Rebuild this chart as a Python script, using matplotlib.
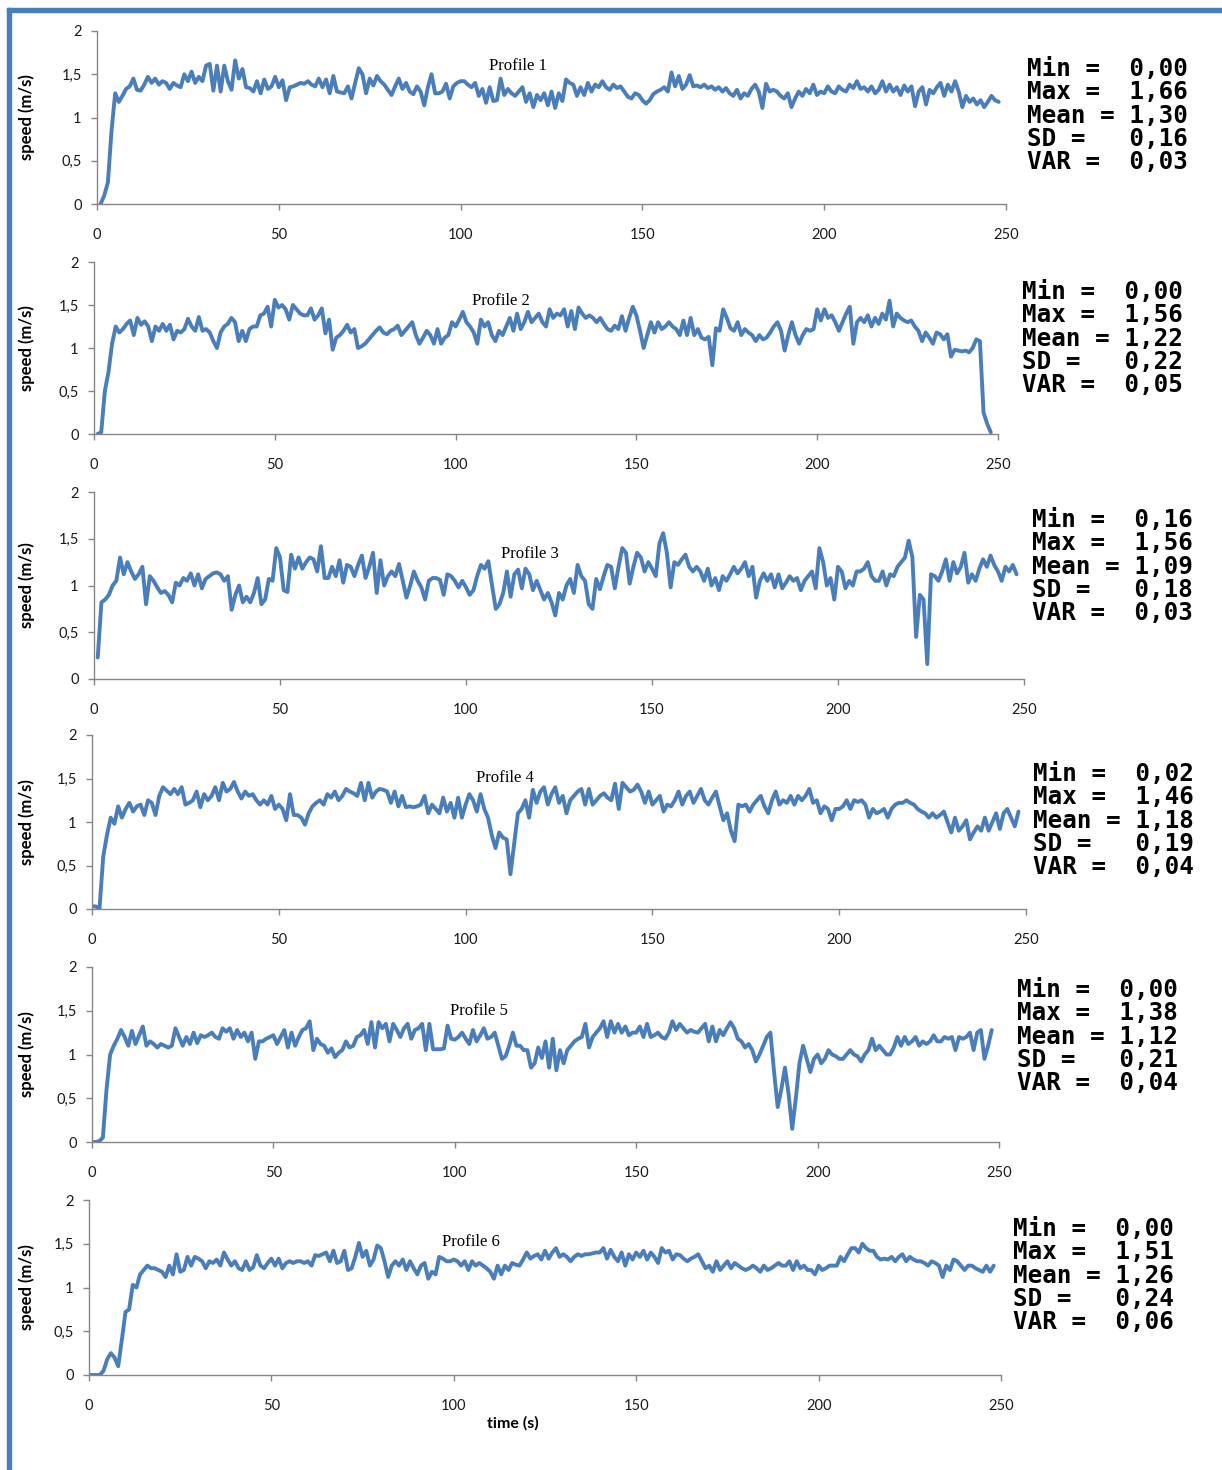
import numpy as np
import matplotlib.pyplot as plt
from matplotlib.patches import Rectangle

W, H = 1222, 1470

# speed (m/s) per second
speed1 = [0.00, 0.10, 0.25, 0.85, 1.28, 1.18, 1.25, 1.33, 1.36, 1.45,
          1.32, 1.31, 1.38, 1.47, 1.40, 1.45, 1.38, 1.42, 1.40, 1.33,
          1.40, 1.37, 1.35, 1.50, 1.42, 1.53, 1.40, 1.47, 1.42, 1.60,
          1.62, 1.31, 1.60, 1.30, 1.60, 1.42, 1.32, 1.66, 1.45, 1.56,
          1.35, 1.34, 1.30, 1.42, 1.28, 1.44, 1.33, 1.36, 1.47, 1.35,
          1.43, 1.20, 1.35, 1.36, 1.38, 1.40, 1.39, 1.42, 1.38, 1.36,
          1.45, 1.35, 1.44, 1.28, 1.48, 1.30, 1.29, 1.28, 1.36, 1.22,
          1.40, 1.57, 1.50, 1.28, 1.45, 1.37, 1.48, 1.42, 1.38, 1.32,
          1.26, 1.36, 1.45, 1.33, 1.40, 1.30, 1.27, 1.36, 1.30, 1.14,
          1.35, 1.50, 1.28, 1.28, 1.30, 1.39, 1.22, 1.36, 1.40, 1.42,
          1.42, 1.38, 1.35, 1.40, 1.25, 1.33, 1.17, 1.35, 1.19, 1.20,
          1.45, 1.26, 1.33, 1.28, 1.25, 1.30, 1.35, 1.18, 1.28, 1.12,
          1.26, 1.20, 1.28, 1.14, 1.30, 1.11, 1.28, 1.19, 1.44, 1.40,
          1.38, 1.25, 1.35, 1.26, 1.40, 1.30, 1.38, 1.35, 1.42, 1.35,
          1.32, 1.38, 1.34, 1.36, 1.30, 1.24, 1.22, 1.28, 1.26, 1.20,
          1.16, 1.20, 1.27, 1.30, 1.32, 1.35, 1.30, 1.52, 1.36, 1.48,
          1.33, 1.38, 1.49, 1.36, 1.37, 1.35, 1.38, 1.34, 1.36, 1.32,
          1.35, 1.30, 1.34, 1.28, 1.25, 1.32, 1.22, 1.28, 1.25, 1.33,
          1.38, 1.30, 1.11, 1.39, 1.30, 1.32, 1.30, 1.25, 1.22, 1.28,
          1.12, 1.22, 1.30, 1.25, 1.33, 1.28, 1.38, 1.26, 1.30, 1.28,
          1.36, 1.30, 1.28, 1.36, 1.32, 1.30, 1.38, 1.34, 1.42, 1.33,
          1.35, 1.30, 1.36, 1.28, 1.32, 1.42, 1.30, 1.38, 1.30, 1.35,
          1.26, 1.37, 1.30, 1.36, 1.13, 1.30, 1.35, 1.15, 1.32, 1.28,
          1.35, 1.40, 1.25, 1.38, 1.30, 1.42, 1.30, 1.12, 1.25, 1.18,
          1.22, 1.15, 1.20, 1.12, 1.18, 1.25, 1.20, 1.18]

speed2 = [0.00, 0.02, 0.50, 0.72, 1.05, 1.25, 1.18, 1.22, 1.28, 1.32,
          1.15, 1.35, 1.27, 1.31, 1.25, 1.08, 1.25, 1.20, 1.28, 1.20,
          1.27, 1.10, 1.20, 1.18, 1.22, 1.34, 1.25, 1.20, 1.36, 1.20,
          1.22, 1.18, 1.08, 1.00, 1.18, 1.25, 1.28, 1.35, 1.30, 1.08,
          1.20, 1.08, 1.22, 1.25, 1.25, 1.38, 1.40, 1.48, 1.25, 1.56,
          1.47, 1.50, 1.45, 1.33, 1.50, 1.45, 1.40, 1.38, 1.38, 1.46,
          1.33, 1.38, 1.46, 1.17, 1.33, 0.98, 1.12, 1.15, 1.20, 1.27,
          1.18, 1.22, 1.00, 1.02, 1.05, 1.10, 1.15, 1.20, 1.24, 1.18,
          1.16, 1.20, 1.22, 1.26, 1.15, 1.20, 1.25, 1.30, 1.15, 1.05,
          1.12, 1.20, 1.15, 1.05, 1.22, 1.05, 1.12, 1.15, 1.30, 1.25,
          1.33, 1.42, 1.30, 1.25, 1.18, 1.05, 1.33, 1.25, 1.30, 1.15,
          1.08, 1.20, 1.15, 1.25, 1.35, 1.20, 1.40, 1.22, 1.30, 1.42,
          1.30, 1.35, 1.40, 1.30, 1.25, 1.45, 1.35, 1.40, 1.38, 1.45,
          1.25, 1.43, 1.22, 1.47, 1.40, 1.35, 1.38, 1.35, 1.30, 1.35,
          1.28, 1.22, 1.20, 1.26, 1.22, 1.37, 1.20, 1.35, 1.48, 1.38,
          1.20, 1.00, 1.15, 1.30, 1.18, 1.30, 1.22, 1.25, 1.30, 1.25,
          1.22, 1.15, 1.32, 1.15, 1.35, 1.15, 1.22, 1.12, 1.10, 1.13,
          0.80, 1.23, 1.20, 1.45, 1.35, 1.23, 1.20, 1.30, 1.15, 1.22,
          1.18, 1.15, 1.08, 1.15, 1.10, 1.12, 1.18, 1.25, 1.30, 1.20,
          0.97, 1.15, 1.30, 1.15, 1.05, 1.15, 1.22, 1.20, 1.22, 1.45,
          1.32, 1.45, 1.35, 1.38, 1.30, 1.20, 1.30, 1.40, 1.48, 1.05,
          1.30, 1.35, 1.30, 1.38, 1.25, 1.35, 1.28, 1.40, 1.33, 1.55,
          1.25, 1.40, 1.35, 1.32, 1.30, 1.32, 1.25, 1.20, 1.08, 1.18,
          1.12, 1.05, 1.18, 1.16, 1.10, 1.16, 0.90, 0.98, 0.97, 0.96,
          0.97, 0.95, 1.00, 1.10, 1.08, 0.25, 0.12, 0.02]

speed3 = [0.23, 0.82, 0.85, 0.90, 1.00, 1.05, 1.30, 1.12, 1.25, 1.15,
          1.07, 1.12, 1.20, 0.80, 1.10, 1.05, 0.98, 0.92, 0.94, 0.90,
          0.82, 1.03, 1.00, 1.08, 1.05, 1.13, 1.00, 1.12, 0.97, 1.07,
          1.10, 1.13, 1.14, 1.12, 1.05, 1.10, 0.74, 0.90, 1.00, 0.82,
          0.88, 0.82, 0.92, 1.08, 0.80, 0.85, 1.07, 1.05, 1.40, 1.30,
          0.95, 0.93, 1.33, 1.18, 1.30, 1.18, 1.25, 1.30, 1.28, 1.15,
          1.42, 1.08, 1.08, 1.20, 1.10, 1.27, 1.03, 1.22, 1.20, 1.10,
          1.22, 1.32, 1.08, 1.20, 1.35, 0.92, 1.27, 1.00, 1.10, 1.15,
          1.10, 1.23, 1.05, 0.87, 1.00, 1.15, 1.05, 0.98, 0.85, 1.05,
          1.08, 1.08, 1.06, 0.90, 1.12, 1.10, 1.05, 0.98, 1.05, 0.98,
          0.90, 0.95, 1.10, 1.22, 1.18, 1.26, 1.00, 0.75, 0.80, 0.92,
          1.15, 0.88, 1.12, 1.17, 0.97, 1.18, 1.12, 0.95, 1.05, 0.95,
          0.85, 0.92, 0.82, 0.68, 0.92, 0.85, 1.00, 1.07, 0.92, 1.22,
          1.10, 1.05, 0.80, 0.75, 1.07, 0.96, 1.10, 1.22, 1.20, 0.97,
          1.20, 1.40, 1.35, 1.02, 1.20, 1.35, 1.30, 1.15, 1.25, 1.18,
          1.10, 1.45, 1.56, 1.35, 0.98, 1.25, 1.22, 1.28, 1.33, 1.20,
          1.15, 1.20, 1.15, 1.05, 1.18, 1.00, 1.08, 0.95, 1.10, 1.05,
          1.12, 1.20, 1.13, 1.18, 1.25, 1.10, 1.20, 0.87, 1.05, 1.13,
          1.05, 1.12, 0.98, 1.12, 0.97, 1.03, 1.10, 1.05, 1.08, 0.95,
          1.05, 1.10, 1.15, 0.97, 1.40, 1.25, 1.00, 1.08, 0.85, 1.20,
          1.15, 0.97, 1.05, 1.00, 1.15, 1.15, 1.18, 1.25, 1.10, 1.05,
          1.05, 1.15, 1.00, 1.12, 1.10, 1.20, 1.25, 1.30, 1.48, 1.30,
          0.45, 0.90, 0.85, 0.16, 1.12, 1.10, 1.05, 1.15, 1.28, 1.05,
          1.25, 1.13, 1.20, 1.35, 1.03, 1.12, 1.05, 1.18, 1.28, 1.20,
          1.32, 1.22, 1.15, 1.05, 1.20, 1.15, 1.22, 1.12]

speed4 = [0.03, 0.03, 0.00, 0.60, 0.85, 1.05, 0.98, 1.18, 1.05, 1.15,
          1.22, 1.12, 1.18, 1.20, 1.08, 1.25, 1.22, 1.08, 1.30, 1.40,
          1.36, 1.32, 1.38, 1.32, 1.40, 1.20, 1.22, 1.25, 1.35, 1.17,
          1.32, 1.25, 1.30, 1.40, 1.25, 1.45, 1.35, 1.38, 1.46, 1.35,
          1.27, 1.35, 1.30, 1.32, 1.25, 1.20, 1.25, 1.20, 1.30, 1.15,
          1.20, 1.15, 1.02, 1.32, 1.08, 1.08, 1.05, 0.97, 1.10, 1.18,
          1.22, 1.25, 1.20, 1.32, 1.28, 1.35, 1.25, 1.30, 1.38, 1.35,
          1.33, 1.30, 1.45, 1.25, 1.45, 1.28, 1.35, 1.38, 1.37, 1.35,
          1.22, 1.35, 1.18, 1.30, 1.17, 1.18, 1.17, 1.18, 1.20, 1.30,
          1.10, 1.20, 1.15, 1.10, 1.28, 1.12, 1.22, 1.05, 1.28, 1.05,
          1.20, 1.32, 1.25, 1.12, 1.32, 1.15, 1.05, 0.85, 0.70, 0.88,
          0.82, 0.80, 0.40, 0.75,
          1.10, 1.15, 1.25, 1.05, 1.37, 1.22, 1.35, 1.40, 1.20, 1.32,
          1.40, 1.22, 1.30, 1.10, 1.25, 1.30, 1.35, 1.38, 1.20, 1.38,
          1.20, 1.25, 1.30, 1.33, 1.28, 1.25, 1.44, 1.15, 1.45, 1.40,
          1.35, 1.37, 1.43, 1.35, 1.22, 1.35,
          1.20, 1.25, 1.30, 1.12, 1.20, 1.18, 1.25, 1.35, 1.20, 1.30,
          1.35, 1.22, 1.30, 1.38, 1.25, 1.20, 1.28, 1.35, 1.18, 1.02,
          1.10, 0.90, 0.78, 1.20, 1.18, 1.20, 1.12, 1.20, 1.25, 1.30,
          1.18, 1.10, 1.25, 1.35, 1.20, 1.25, 1.22, 1.30, 1.20, 1.30,
          1.25, 1.30, 1.38, 1.22, 1.25, 1.10, 1.18, 1.15, 1.02, 1.15,
          1.15, 1.18, 1.25, 1.15, 1.25, 1.23, 1.25, 1.20, 1.05, 1.15,
          1.10, 1.12, 1.15, 1.05, 1.15, 1.20, 1.22, 1.22, 1.25, 1.22,
          1.20, 1.15, 1.12, 1.10, 1.05, 1.10, 1.05, 1.08, 1.12, 1.00,
          0.88, 1.05, 0.90, 0.95, 1.02, 0.80, 0.88, 0.95, 0.90, 1.05,
          0.90, 1.00, 1.10, 0.92, 1.10, 1.15, 1.05, 0.95, 1.12]

speed5 = [0.00, 0.00, 0.01, 0.05, 0.60, 1.00, 1.10, 1.18, 1.28, 1.20,
          1.10, 1.27, 1.12, 1.22, 1.32, 1.10, 1.15, 1.12, 1.08, 1.12,
          1.10, 1.08, 1.10, 1.30, 1.20, 1.10, 1.20, 1.12, 1.25, 1.13,
          1.22, 1.20, 1.22, 1.25, 1.20, 1.18, 1.30, 1.26, 1.30, 1.18,
          1.28, 1.20, 1.25, 1.15, 1.25, 0.95, 1.15, 1.15, 1.18, 1.20,
          1.22, 1.12, 1.20, 1.28, 1.08, 1.25, 1.10, 1.20, 1.28, 1.30,
          1.38, 1.05, 1.18, 1.12, 1.10, 1.02, 1.07, 0.97, 1.02, 1.05,
          1.15, 1.08, 1.10, 1.20, 1.22, 1.28, 1.12, 1.37, 1.08, 1.37,
          1.30, 1.35, 1.15, 1.35, 1.28, 1.20, 1.30, 1.35, 1.18, 1.28,
          1.30, 1.35, 1.05, 1.35, 1.06, 1.06, 1.06, 1.07, 1.33, 1.18,
          1.17, 1.20, 1.25, 1.18, 1.12, 1.28, 1.15, 1.22, 1.30, 1.18,
          1.20, 1.25, 1.10, 0.95, 0.98, 1.10, 1.25, 1.10, 1.10, 1.05,
          1.05, 0.85, 0.90, 1.08, 0.96, 1.15, 0.85, 1.18, 0.82, 1.05,
          0.90, 1.05, 1.10, 1.15, 1.18, 1.20, 1.35, 1.08, 1.20, 1.25,
          1.30, 1.38, 1.20, 1.38, 1.25, 1.35, 1.25, 1.32, 1.22, 1.25,
          1.25, 1.32, 1.20, 1.35, 1.20, 1.22, 1.25, 1.20, 1.18, 1.25,
          1.38, 1.28, 1.35, 1.30, 1.25, 1.28, 1.26, 1.25, 1.30, 1.35,
          1.15, 1.32, 1.15, 1.28, 1.22, 1.30, 1.37, 1.30, 1.18, 1.15,
          1.08, 1.12, 1.05, 0.92, 1.00, 1.10, 1.20, 1.25, 0.80, 0.40,
          0.60, 0.85, 0.55, 0.15, 0.50, 0.90, 1.10, 0.95, 0.80, 0.95,
          1.00, 0.90, 0.95, 1.05, 1.00, 0.98, 0.95, 0.95, 1.00, 1.05,
          1.00, 0.98, 0.92, 1.00, 1.05, 1.18, 1.05, 1.10, 1.05, 1.00,
          1.00, 1.08, 1.20, 1.10, 1.20, 1.12, 1.15, 1.20, 1.10, 1.15,
          1.12, 1.15, 1.22, 1.15, 1.15, 1.20, 1.18, 1.20, 1.05, 1.20,
          1.18, 1.20, 1.25, 1.05, 1.25, 1.28, 0.95, 1.10, 1.28]

speed6 = [0.00, 0.00, 0.00, 0.00, 0.05, 0.18, 0.25, 0.20, 0.10, 0.40,
          0.72, 0.75, 1.03, 1.00, 1.15, 1.20, 1.25, 1.22, 1.22, 1.20,
          1.18, 1.12, 1.25, 1.15, 1.38, 1.18, 1.20, 1.35, 1.25, 1.35,
          1.33, 1.30, 1.22, 1.30, 1.28, 1.32, 1.25, 1.40, 1.32, 1.25,
          1.30, 1.22, 1.20, 1.30, 1.20, 1.23, 1.37, 1.25, 1.22, 1.28,
          1.33, 1.25, 1.33, 1.22, 1.28, 1.30, 1.28, 1.30, 1.30, 1.28,
          1.30, 1.25, 1.37, 1.36, 1.38, 1.40, 1.30, 1.42, 1.28, 1.30,
          1.42, 1.20, 1.22, 1.35, 1.51, 1.35, 1.42, 1.25, 1.32, 1.48,
          1.45, 1.30, 1.12, 1.25, 1.30, 1.25, 1.32, 1.20, 1.30, 1.22,
          1.15, 1.25, 1.28, 1.10, 1.18, 1.15, 1.35, 1.33, 1.30, 1.30,
          1.32, 1.30, 1.25, 1.30, 1.20, 1.30, 1.25, 1.28, 1.25, 1.22,
          1.18, 1.10, 1.25, 1.15, 1.25, 1.20, 1.28, 1.26, 1.25, 1.32,
          1.40, 1.33, 1.36, 1.38, 1.32, 1.42, 1.33, 1.40, 1.45, 1.35,
          1.38, 1.35, 1.30, 1.35, 1.38, 1.36, 1.38, 1.38, 1.39, 1.40,
          1.40, 1.45, 1.33, 1.43, 1.35, 1.30, 1.40, 1.25, 1.38, 1.32,
          1.40, 1.35, 1.42, 1.32, 1.40, 1.35, 1.28, 1.45, 1.40, 1.42,
          1.32, 1.38, 1.37, 1.33, 1.30, 1.33, 1.35, 1.38, 1.30, 1.22,
          1.25, 1.18, 1.30, 1.20, 1.25, 1.30, 1.22, 1.28, 1.25, 1.22,
          1.20, 1.22, 1.25, 1.22, 1.18, 1.25, 1.20, 1.22, 1.25, 1.28,
          1.25, 1.25, 1.30, 1.20, 1.30, 1.22, 1.25, 1.20, 1.20, 1.15,
          1.25, 1.20, 1.22, 1.25, 1.25, 1.25, 1.35, 1.30, 1.38, 1.45,
          1.45, 1.40, 1.50, 1.45, 1.42, 1.42, 1.35, 1.32, 1.33, 1.32,
          1.35, 1.30, 1.35, 1.38, 1.30, 1.35, 1.32, 1.30, 1.30, 1.28,
          1.25, 1.30, 1.28, 1.25, 1.12, 1.25, 1.20, 1.32, 1.30, 1.25,
          1.20, 1.25, 1.25, 1.22, 1.20, 1.18, 1.25, 1.18, 1.25]

speeds = [speed1, speed2, speed3, speed4, speed5, speed6]
t_start = [1, 1, 1, 0, 0, 0]

stat_min = [0.00, 0.00, 0.16, 0.02, 0.00, 0.00]
stat_max = [1.66, 1.56, 1.56, 1.46, 1.38, 1.51]
stat_mean = [1.30, 1.22, 1.09, 1.18, 1.12, 1.26]
stat_sd = [0.16, 0.22, 0.18, 0.19, 0.21, 0.24]
stat_var = [0.03, 0.05, 0.03, 0.04, 0.04, 0.06]

x_ticks = [0, 50, 100, 150, 200, 250]
y_ticks = [0, 0.5, 1, 1.5, 2]
y_ticklabels = ['0', '0,5', '1', '1,5', '2']

# pixel layout of each small chart: x of t=0, x of t=250, y of 2, y of 0
boxes = [(97, 1006, 31, 204), (94, 998, 262, 434), (94, 1024, 492, 679),
         (92, 1026, 735, 909), (92, 999, 967, 1142), (89, 1001, 1200, 1375)]
title_pos = [(518, 66), (501, 301), (530, 554), (505, 778), (479, 1011), (471, 1242)]
stats_pos = [(1027, 69), (1022, 292), (1032, 520), (1033, 774), (1017, 990), (1013, 1229)]

blue = '#4a7ebb'
grey = '#868686'

fig = plt.figure(figsize=(W / 100, H / 100), dpi=100)
fig.patch.set_facecolor('white')

# blue frame on the left and top
fig.patches.append(Rectangle((7 / W, 0), 4 / W, 1 - 8 / H, transform=fig.transFigure,
                             color=blue, zorder=0))
fig.patches.append(Rectangle((7 / W, 1 - 12 / H), 1, 4 / H, transform=fig.transFigure,
                             color=blue, zorder=0))

def fmt(v):
    return ('%.2f' % v).replace('.', ',')

for i in range(6):
    x0, x1, ytop, ybot = boxes[i]
    ax = fig.add_axes([x0 / W, 1 - ybot / H, (x1 - x0) / W, (ybot - ytop) / H])
    t = np.arange(t_start[i], t_start[i] + len(speeds[i]))
    ax.plot(t, speeds[i], color=blue, lw=2.8, solid_joinstyle='round',
            solid_capstyle='round')
    ax.set_xlim(0, 250)
    ax.set_ylim(0, 2)
    ax.set_xticks(x_ticks)
    ax.set_yticks(y_ticks)
    ax.set_yticklabels(y_ticklabels)
    for s in ['top', 'right']:
        ax.spines[s].set_visible(False)
    for s in ['left', 'bottom']:
        ax.spines[s].set_color(grey)
        ax.spines[s].set_linewidth(1.0)
    ax.tick_params(axis='both', direction='out', length=4, width=1, color=grey,
                   labelsize=10.5, labelcolor='#1a1a1a')
    ax.tick_params(axis='x', pad=13)
    ax.tick_params(axis='y', pad=7)
    for lab in ax.get_xticklabels() + ax.get_yticklabels():
        lab.set_fontfamily('Lato')
    ax.set_ylabel('speed (m/s)', fontsize=12, fontweight='bold', family='Lato')
    ax.yaxis.set_label_coords((35 - x0) / (x1 - x0), 0.5)

    tx, ty = title_pos[i]
    fig.text(tx / W, 1 - ty / H, 'Profile %d' % (i + 1), ha='center', va='center',
             fontsize=12, family='Liberation Serif')

    sx, sy = stats_pos[i]
    rows = ['Min =  ' + fmt(stat_min[i]),
            'Max =  ' + fmt(stat_max[i]),
            'Mean = ' + fmt(stat_mean[i]),
            'SD =   ' + fmt(stat_sd[i]),
            'VAR =  ' + fmt(stat_var[i])]
    for k, r in enumerate(rows):
        fig.text(sx / W, 1 - (sy + k * 23.3) / H, r, ha='left', va='center',
                 fontsize=17.5, fontweight='bold', family='DejaVu Sans Mono')

fig.text(513 / W, 1 - 1423 / H, 'time (s)', ha='center', va='center',
         fontsize=11.5, fontweight='bold', family='Lato')

fig.savefig('out.png', dpi=100)
